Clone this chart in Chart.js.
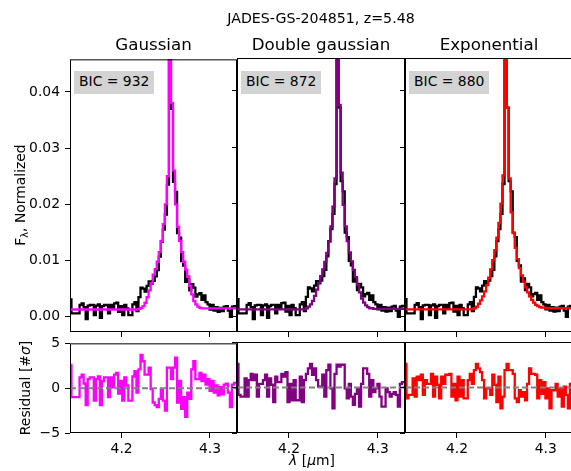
<!DOCTYPE html>
<html>
<head>
<meta charset="utf-8">
<script src="https://cdn.jsdelivr.net/npm/chart.js@4.4.0/dist/chart.umd.min.js"></script>
<style>
  body { margin: 0; width: 571px; height: 471px; overflow: hidden; position: relative; background: #fff;
         font-family: "DejaVu Sans", sans-serif; color: #000; }
  .panel { position: absolute; }
  .txt { position: absolute; white-space: nowrap; line-height: 1; }
  .bic { position: absolute; background: #d3d3d3; height: 23px; width: 80px; box-sizing: border-box;
         padding-left: 5px; font-size: 13.9px; line-height: 21px; white-space: nowrap; }
</style>
</head>
<body>
<script>
// wavelength grid of the spectrum (micron)
const wavelength = [
  4.1420, 4.1443, 4.1466, 4.1489, 4.1512, 4.1535, 4.1558, 4.1581, 4.1604, 4.1627,
  4.1650, 4.1673, 4.1696, 4.1719, 4.1742, 4.1765, 4.1788, 4.1811, 4.1834, 4.1857,
  4.1880, 4.1903, 4.1926, 4.1949, 4.1972, 4.1995, 4.2018, 4.2041, 4.2064, 4.2087,
  4.2110, 4.2133, 4.2156, 4.2179, 4.2202, 4.2225, 4.2248, 4.2271, 4.2294, 4.2317,
  4.2340, 4.2363, 4.2386, 4.2409, 4.2432, 4.2455, 4.2478, 4.2501, 4.2524, 4.2547,
  4.2570, 4.2593, 4.2616, 4.2639, 4.2662, 4.2685, 4.2708, 4.2731, 4.2754, 4.2777,
  4.2800, 4.2823, 4.2846, 4.2869, 4.2892, 4.2915, 4.2938, 4.2961, 4.2984, 4.3007,
  4.3030, 4.3053, 4.3076, 4.3099, 4.3122, 4.3145, 4.3168, 4.3191, 4.3214, 4.3237,
  4.3260, 4.3283, 4.3306
];

// observed flux, normalized (same in every panel)
const flux = [
  0.0031, 0.0006, 0.0006, 0.0006, 0.0006, 0.0021, 0.0024, 0.0017, -0.0004, 0.0020,
  0.0021, 0.0021, 0.0003, 0.0020, 0.0022, -0.0002, 0.0019, 0.0021, 0.0021, 0.0006,
  0.0021, 0.0014, 0.0024, 0.0025, 0.0009, 0.0019, 0.0003, 0.0021, 0.0015, 0.0003,
  0.0003, 0.0022, 0.0026, 0.0010, 0.0035, 0.0052, 0.0050, 0.0045, 0.0055, 0.0063,
  0.0059, 0.0064, 0.0072, 0.0083, 0.0107, 0.0134, 0.0155, 0.0182, 0.0235, 0.0580,
  0.0370, 0.0240, 0.0222, 0.0149, 0.0141, 0.0099, 0.0091, 0.0062, 0.0068, 0.0047,
  0.0058, 0.0052, 0.0036, 0.0040, 0.0042, 0.0030, 0.0038, 0.0026, 0.0022, 0.0013,
  0.0021, 0.0011, 0.0017, 0.0009, 0.0016, 0.0010, 0.0018, 0.0019, 0.0011, 0.0000,
  0.0018, 0.0019, 0.0019
];

// best-fit models
const modelGauss = [
  0.0013, 0.0013, 0.0013, 0.0013, 0.0013, 0.0013, 0.0013, 0.0013, 0.0013, 0.0013,
  0.0013, 0.0013, 0.0013, 0.0013, 0.0013, 0.0013, 0.0013, 0.0013, 0.0013, 0.0013,
  0.0013, 0.0013, 0.0013, 0.0013, 0.0013, 0.0013, 0.0013, 0.0013, 0.0013, 0.0013,
  0.0013, 0.0013, 0.0013, 0.0013, 0.0014, 0.0016, 0.0019, 0.0025, 0.0035, 0.0047,
  0.0060, 0.0075, 0.0085, 0.0098, 0.0115, 0.0135, 0.0165, 0.0200, 0.0250, 0.0640,
  0.0380, 0.0260, 0.0200, 0.0160, 0.0135, 0.0115, 0.0098, 0.0084, 0.0072, 0.0055,
  0.0040, 0.0028, 0.0022, 0.0018, 0.0016, 0.0015, 0.0015, 0.0015, 0.0015, 0.0015,
  0.0015, 0.0015, 0.0015, 0.0015, 0.0015, 0.0015, 0.0015, 0.0015, 0.0015, 0.0015,
  0.0015, 0.0015, 0.0015
];
const modelDouble = [
  0.0013, 0.0013, 0.0013, 0.0013, 0.0013, 0.0013, 0.0013, 0.0013, 0.0013, 0.0013,
  0.0013, 0.0013, 0.0013, 0.0013, 0.0013, 0.0013, 0.0013, 0.0013, 0.0013, 0.0013,
  0.0013, 0.0013, 0.0013, 0.0013, 0.0013, 0.0013, 0.0013, 0.0013, 0.0013, 0.0013,
  0.0013, 0.0013, 0.0013, 0.0013, 0.0015, 0.0018, 0.0022, 0.0028, 0.0037, 0.0048,
  0.0060, 0.0072, 0.0084, 0.0097, 0.0113, 0.0133, 0.0160, 0.0195, 0.0245, 0.0660,
  0.0375, 0.0255, 0.0198, 0.0160, 0.0134, 0.0114, 0.0098, 0.0083, 0.0070, 0.0056,
  0.0043, 0.0032, 0.0025, 0.0020, 0.0017, 0.0015, 0.0015, 0.0014, 0.0014, 0.0014,
  0.0014, 0.0014, 0.0014, 0.0014, 0.0014, 0.0014, 0.0014, 0.0014, 0.0014, 0.0014,
  0.0014, 0.0014, 0.0014
];
const modelExp = [
  0.0013, 0.0013, 0.0013, 0.0013, 0.0013, 0.0013, 0.0013, 0.0013, 0.0013, 0.0013,
  0.0013, 0.0013, 0.0013, 0.0013, 0.0013, 0.0013, 0.0013, 0.0013, 0.0013, 0.0013,
  0.0013, 0.0013, 0.0013, 0.0013, 0.0013, 0.0013, 0.0013, 0.0013, 0.0013, 0.0013,
  0.0013, 0.0013, 0.0013, 0.0014, 0.0015, 0.0018, 0.0023, 0.0029, 0.0036, 0.0045,
  0.0056, 0.0069, 0.0084, 0.0100, 0.0118, 0.0140, 0.0166, 0.0200, 0.0250, 0.0700,
  0.0370, 0.0245, 0.0185, 0.0148, 0.0122, 0.0102, 0.0086, 0.0073, 0.0062, 0.0052,
  0.0043, 0.0036, 0.0030, 0.0025, 0.0021, 0.0019, 0.0017, 0.0016, 0.0016, 0.0015,
  0.0015, 0.0015, 0.0015, 0.0015, 0.0015, 0.0015, 0.0015, 0.0015, 0.0015, 0.0015,
  0.0015, 0.0015, 0.0015
];

// residuals in units of sigma
const residGauss = [
  2.6, -1.0, -1.0, -1.0, -1.0, 1.2, 1.5, 0.5, -1.9, 1.0,
  1.2, 1.2, -1.4, 1.0, 1.3, -1.9, 0.8, 1.2, 1.2, -1.0,
  1.2, 0.1, 1.5, 1.7, -0.6, 0.8, -1.4, 1.2, 0.3, -1.4,
  -1.4, 1.3, 1.9, -0.5, 2.1, 3.7, 3.0, 1.5, 1.5, 2.3,
  -0.1, -1.6, -1.9, -2.1, -1.2, -0.1, -1.4, -2.5, 2.3, 2.3,
  1.0, 2.3, 3.4, -1.6, 0.8, -2.3, -1.0, -3.2, -0.5, -1.2,
  2.1, 3.0, 1.0, 1.0, 1.7, 0.8, 1.5, 0.4, 1.0, -0.3,
  0.8, -0.5, 0.3, -0.8, 0.1, -0.7, 0.4, 0.5, -0.5, -2.1,
  0.4, 0.6, 0.6
];
const residDouble = [
  2.6, -0.8, -1.0, -1.0, 1.0, -1.0, 0.8, 1.5, 0.8, 1.4,
  -1.0, 0.4, 0.4, 0.8, 1.4, -1.0, 1.0, 0.3, -1.6, 1.2,
  0.6, 0.6, 1.5, 1.2, 1.7, -1.6, 0.4, -1.4, 0.8, -1.4,
  -1.4, 1.2, -1.6, 0.8, 1.5, 2.1, 2.6, 1.4, 2.1, 0.8,
  0.1, 0.1, 1.4, -1.0, 1.9, 2.5, -0.1, -2.3, 1.5, 2.5,
  2.3, 2.5, 2.5, -0.1, -1.2, 0.4, -1.0, -1.9, -0.7, -0.1,
  -2.1, 0.4, 2.1, 2.1, 1.5, -1.0, 0.8, -0.5, -0.1, 0.4,
  -1.0, -2.1, -2.1, -0.1, -0.5, -1.0, -0.7, -0.5, -0.8, -2.1,
  0.4, 0.6, 0.6
];
const residExp = [
  2.6, -1.2, -0.8, -0.8, 1.0, -1.0, 1.2, 0.8, 1.4, -0.8,
  0.8, 0.4, 0.4, 1.5, -1.0, 1.2, 0.3, -1.2, 1.2, 0.4,
  1.4, 1.4, 1.5, -1.0, 0.4, -1.4, 1.2, -1.0, 0.8, -1.2,
  -1.2, 0.8, 1.5, 0.4, 1.9, 2.6, 2.1, 1.7, 0.8, -1.2,
  -0.1, -0.1, -0.8, 1.4, 0.3, -1.6, 1.2, -2.3, -1.0, 1.9,
  2.6, 1.9, 1.9, 1.5, -1.2, -1.6, -0.3, -1.0, -0.5, -1.4,
  0.4, 2.1, 1.5, 1.5, 1.4, -1.2, 0.8, -0.7, 0.6, -1.2,
  -0.1, -2.3, -0.3, -0.3, 0.4, -1.0, -0.1, -2.1, 0.1, -0.8,
  -2.3, 0.4, 0.4
];

const zeroLine = [0, 0];
const fluxTicks = [0, 0.01, 0.02, 0.03, 0.04];
const residTicks = [-5, 0, 5];
const wlTicks = [4.2, 4.3];
const panelTitles = ['Gaussian', 'Double gaussian', 'Exponential'];
const bicValues = [932, 872, 880];

// axis limits
const xLim = [4.1415, 4.3306];
const fluxLim = [-0.0027, 0.0458];
const residLim = [-5, 5];

// layout (pixels)
const FONT = '"DejaVu Sans", sans-serif';
const PAD = 12, YAXW = 50, XAXH = 30;
const colLeft = [70, 237, 405];
const colW = [167, 168, 168];
const rows = [{ top: 58, h: 274 }, { top: 342, h: 91 }];
const fitColors = ['#ff00ff', '#800080', '#ff0000'];

const frame = {
  id: 'frame',
  afterDraw(chart) {
    const { ctx, chartArea: a } = chart;
    ctx.save();
    ctx.strokeStyle = '#000';
    ctx.lineWidth = 1;
    ctx.strokeRect(a.left + 0.5, a.top + 0.5, a.right - a.left - 1, a.bottom - a.top - 1);
    ctx.restore();
  }
};

function pts(values) {
  return values.map((v, i) => ({ x: wavelength[i], y: v }));
}

function addPanel(col, row, datasets, yLim, yTicks, yFmt) {
  const r = rows[row];
  const w = PAD + YAXW + colW[col] + PAD;
  const h = PAD + r.h + XAXH + PAD;
  const wrap = document.createElement('div');
  wrap.className = 'panel';
  wrap.style.left = (colLeft[col] - PAD - YAXW) + 'px';
  wrap.style.top = (r.top - PAD) + 'px';
  wrap.style.width = w + 'px';
  wrap.style.height = h + 'px';
  const cv = document.createElement('canvas');
  cv.width = w;
  cv.height = h;
  wrap.appendChild(cv);
  document.body.appendChild(wrap);

  const tickFont = { family: FONT, size: 13.9 };
  const grid = { drawOnChartArea: false, drawTicks: true, tickLength: 5, tickWidth: 1, tickColor: '#000' };

  new Chart(cv, {
    type: 'line',
    data: { datasets },
    options: {
      responsive: false,
      animation: false,
      events: [],
      layout: { padding: PAD },
      plugins: { legend: { display: false }, tooltip: { enabled: false } },
      scales: {
        x: {
          type: 'linear', min: xLim[0], max: xLim[1],
          afterFit: s => { s.height = XAXH; },
          afterBuildTicks: s => { s.ticks = wlTicks.map(v => ({ value: v })); },
          grid, border: { display: false },
          ticks: { display: row === 1, color: '#000', font: tickFont, padding: 3,
                   maxRotation: 0, autoSkip: false, callback: v => v.toFixed(1) }
        },
        y: {
          type: 'linear', min: yLim[0], max: yLim[1],
          afterFit: s => { s.width = YAXW; },
          afterBuildTicks: s => { s.ticks = yTicks.map(v => ({ value: v })); },
          grid, border: { display: false },
          ticks: { display: col === 0, color: '#000', font: tickFont, padding: 5,
                   autoSkip: false, callback: yFmt }
        }
      }
    },
    plugins: [frame]
  });
}

const models = [modelGauss, modelDouble, modelExp];
const resids = [residGauss, residDouble, residExp];
const line = { pointRadius: 0, borderWidth: 2.3, stepped: 'middle', fill: false, clip: 0 };

models.forEach((m, c) => {
  addPanel(c, 0, [
    { ...line, data: pts(m), borderColor: fitColors[c] },
    { ...line, data: pts(flux), borderColor: '#000' }
  ], fluxLim, fluxTicks, v => v.toFixed(2));
});

resids.forEach((res, c) => {
  addPanel(c, 1, [
    { pointRadius: 0, borderWidth: 2, borderColor: 'gray', borderDash: [6, 3], clip: 0,
      data: [{ x: xLim[0], y: zeroLine[0] }, { x: xLim[1], y: zeroLine[1] }] },
    { ...line, data: pts(res), borderColor: fitColors[c] }
  ], residLim, residTicks, v => (v < 0 ? '\u2212' + Math.abs(v) : String(v)));
});

// texts
function addText(html, css) {
  const d = document.createElement('div');
  d.className = 'txt';
  d.innerHTML = html;
  Object.assign(d.style, css);
  document.body.appendChild(d);
  return d;
}

addText('JADES-GS-204851, z=5.48', { left: '321px', top: '10.5px', fontSize: '14.2px', transform: 'translateX(-50%)' });

panelTitles.forEach((t, c) => {
  addText(t, { left: (colLeft[c] + colW[c] / 2) + 'px', top: '35.9px', fontSize: '16.7px', transform: 'translateX(-50%)' });
  const b = document.createElement('div');
  b.className = 'bic';
  b.style.left = (colLeft[c] + 4) + 'px';
  b.style.top = '71px';
  b.textContent = 'BIC = ' + bicValues[c];
  document.body.appendChild(b);
});

addText('F<sub style="font-size:70%;vertical-align:-0.25em">λ</sub>, Normalized',
  { left: '21.9px', top: '195px', fontSize: '13.9px', transform: 'translate(-50%,-50%) rotate(-90deg)' });
addText('Residual [#<i>σ</i>]',
  { left: '26.2px', top: '388px', fontSize: '13.9px', transform: 'translate(-50%,-50%) rotate(-90deg)' });
addText('<i>λ</i> [<i>μ</i>m]', { left: '312px', top: '454.2px', fontSize: '13.9px', transform: 'translateX(-50%)' });
</script>
</body>
</html>
